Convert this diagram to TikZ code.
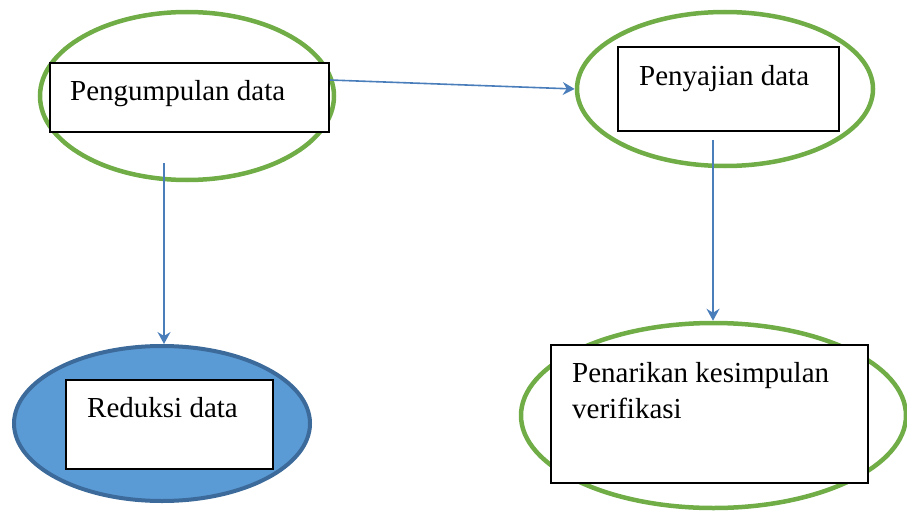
\documentclass[tikz,border=0pt]{standalone}
\usepackage{fontspec}
\setmainfont{Liberation Serif}
\usetikzlibrary{shapes.geometric,arrows.meta}
\definecolor{leafgreen}{HTML}{70AD47}
\definecolor{flowblue}{HTML}{4A7EBB}
\definecolor{discfill}{HTML}{5B9BD5}
\definecolor{discedge}{HTML}{3C6A9A}
\tikzset{
  ring/.style={ellipse, draw=leafgreen, line width=4.5pt, inner sep=0pt},
  disc/.style={ellipse, draw=discedge, fill=discfill, line width=4pt, inner sep=0pt},
  box/.style={rectangle, draw=black, fill=white, line width=2pt, inner sep=0pt},
  caption/.style={anchor=base west, inner sep=0pt, font=\fontsize{29}{36}\selectfont},
  flow/.style={draw=flowblue, line width=1.6pt, -{Stealth[length=12pt,width=13pt,inset=4pt]}},
}
\begin{document}
\begin{tikzpicture}[x=1pt,y=-1pt]
  \useasboundingbox (0,0) rectangle (907,511);

  % outer ellipses
  \node[ring, minimum width=294pt, minimum height=168pt] (e1) at (187,96) {};
  \node[ring, minimum width=296pt, minimum height=154pt] (e2) at (725,89) {};
  \node[disc, minimum width=296pt, minimum height=155pt] (e3) at (162,423.5) {};
  \node[ring, minimum width=385pt, minimum height=185pt] (e4) at (713.5,415.5) {};

  % boxes
  \node[box, minimum width=279pt, minimum height=69pt] (b1) at (189.5,97.5) {};
  \node[box, minimum width=221pt, minimum height=84pt] (b2) at (728.5,89) {};
  \node[box, minimum width=207pt, minimum height=89pt] (b3) at (169.5,424.5) {};
  \node[box, minimum width=317pt, minimum height=138pt] (b4) at (709.5,414) {};

  % captions
  \node[caption] (t1) at (70,100) {Pengumpulan data};
  \node[caption] (t2) at (639,85) {Penyajian data};
  \node[caption] (t3) at (87,417) {Reduksi data};
  \node[caption] (t4a) at (572,382) {Penarikan kesimpulan};
  \node[caption] (t4b) at (572,418) {verifikasi};

  % connectors
  \coordinate (s1) at (164,163);
  \coordinate (s2) at (713,140);
  \draw[flow] (b1.east |- 0,80) -- (e2.west);
  \draw[flow] (s1) -- (e3.north -| s1);
  \draw[flow] (s2) -- (e4.north -| s2);
\end{tikzpicture}
\end{document}
